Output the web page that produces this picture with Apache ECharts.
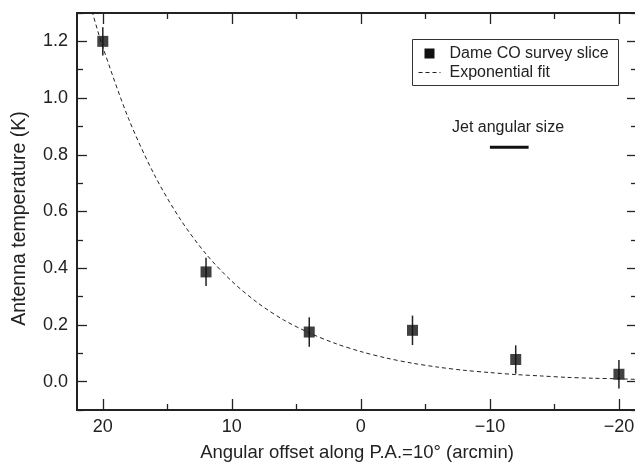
<!DOCTYPE html>
<html>
<head>
<meta charset="utf-8">
<script src="https://cdn.jsdelivr.net/npm/echarts@6/dist/echarts.min.js"></script>
<style>
html,body{margin:0;padding:0;background:#fff;}
#chart{width:635px;height:462px;}
</style>
</head>
<body>
<div id="chart"></div>
<script>
// Observed data (Dame CO survey slice)
var obsX = [20, 12, 4, -4, -12, -20];
var obsY = [1.20, 0.387, 0.175, 0.181, 0.078, 0.026];
var obsErr = [0.05, 0.05, 0.052, 0.052, 0.05, 0.05];

// Exponential fit curve
var fitX = [21, 20.8, 20, 18, 16, 14, 12, 10, 8, 6, 4, 2, 0, -2, -4, -6, -8, -10, -12, -14, -16, -18, -20, -21.4];
var fitY = [1.33, 1.30, 1.18, 0.927, 0.729, 0.573, 0.45, 0.354, 0.278, 0.218, 0.172, 0.135, 0.106, 0.083, 0.065, 0.051, 0.040, 0.032, 0.025, 0.020, 0.015, 0.012, 0.010, 0.008];

// Jet angular size bar
var jetX = [-10, -13];
var jetY = [0.827, 0.827];

// Ticks
var xMajor = [20, 10, 0, -10, -20];
var xMinor = [15, 5, -5, -15];
var yMajor = [0, 0.2, 0.4, 0.6, 0.8, 1.0, 1.2];
var yMinor = [-0.1, 0.1, 0.3, 0.5, 0.7, 0.9, 1.1, 1.3];

var FONT = "'Liberation Sans', Arial, Helvetica, sans-serif";
var INK = '#222';

function zip(a, b) { return a.map(function (v, i) { return [v, b[i]]; }); }

function xAx(pos, ticks, len, labels) {
  var ax = {
    type: 'value', position: pos, min: -21.4, max: 22, inverse: true,
    axisLine: { show: true, onZero: false, lineStyle: { color: INK, width: 2 } },
    axisTick: { show: true, inside: true, length: len, customValues: ticks, lineStyle: { color: INK, width: 1.3 } },
    axisLabel: { show: false },
    splitLine: { show: false }
  };
  if (labels) {
    ax.axisLabel = {
      show: true, customValues: ticks, fontSize: 18, color: INK, fontFamily: FONT, margin: 8,
      formatter: function (v) { return String(v).replace('-', '\u2212'); }
    };
    ax.name = 'Angular offset along P.A.=10\u00b0 (arcmin)';
    ax.nameLocation = 'middle';
    ax.nameGap = 33;
    ax.nameTextStyle = { fontSize: 18.5, color: INK, fontFamily: FONT };
  }
  return ax;
}

function yAx(pos, ticks, len, labels) {
  var ax = {
    type: 'value', position: pos, min: -0.1, max: 1.3,
    axisLine: { show: true, onZero: false, lineStyle: { color: INK, width: 2 } },
    axisTick: { show: true, inside: true, length: len, customValues: ticks, lineStyle: { color: INK, width: 1.3 } },
    axisLabel: { show: false },
    splitLine: { show: false }
  };
  if (labels) {
    ax.axisLabel = {
      show: true, customValues: ticks, fontSize: 18, color: INK, fontFamily: FONT, margin: 9,
      formatter: function (v) { return v.toFixed(1); }
    };
    ax.name = 'Antenna temperature (K)';
    ax.nameLocation = 'middle';
    ax.nameGap = 47;
    ax.nameTextStyle = { fontSize: 19.5, color: INK, fontFamily: FONT, padding: [0, 14, 0, 0] };
  }
  return ax;
}

var chart = echarts.init(document.getElementById('chart'), null, { renderer: 'canvas' });

var option = {
  animation: false,
  backgroundColor: '#fff',
  grid: { left: 77, right: -2, top: 13, bottom: 52, containLabel: false, outerBoundsMode: 'none' },
  xAxis: [
    xAx('bottom', xMajor, 11, true),
    xAx('bottom', xMinor, 6, false),
    xAx('top', xMajor, 11, false),
    xAx('top', xMinor, 6, false)
  ],
  yAxis: [
    yAx('left', yMajor, 10, true),
    yAx('left', yMinor, 6, false),
    yAx('right', yMajor, 10, false),
    yAx('right', yMinor, 6, false)
  ],
  series: [
    {
      name: 'Exponential fit', type: 'line', xAxisIndex: 0, yAxisIndex: 0,
      data: zip(fitX, fitY), smooth: 0.3, showSymbol: false, symbol: 'none', clip: true,
      lineStyle: { color: INK, width: 1, type: [4, 3] }, z: 2
    },
    {
      name: 'errors', type: 'custom', xAxisIndex: 0, yAxisIndex: 0,
      data: obsX.map(function (x, i) { return [x, obsY[i], obsErr[i]]; }),
      renderItem: function (params, api) {
        var x = api.value(0), y = api.value(1), e = api.value(2);
        var p1 = api.coord([x, y - e]);
        var p2 = api.coord([x, y + e]);
        return {
          type: 'line',
          shape: { x1: p1[0], y1: p1[1], x2: p2[0], y2: p2[1] },
          style: { stroke: INK, lineWidth: 1.5 }
        };
      },
      z: 3
    },
    {
      name: 'Dame CO survey slice', type: 'scatter', xAxisIndex: 0, yAxisIndex: 0,
      data: zip(obsX, obsY), symbol: 'rect', symbolSize: 11,
      itemStyle: { color: '#111' }, z: 4
    },
    {
      name: 'Jet angular size', type: 'line', xAxisIndex: 0, yAxisIndex: 0,
      data: zip(jetX, jetY), showSymbol: false, symbol: 'none',
      lineStyle: { color: '#111', width: 3 }, z: 3
    }
  ],
  graphic: [
    {
      type: 'text', left: 452, top: 120,
      style: { text: 'Jet angular size', font: '16px ' + FONT, fill: INK }
    },
    {
      type: 'group', left: 412, top: 39,
      children: [
        { type: 'rect', shape: { x: 0, y: 0, width: 206, height: 46 }, style: { fill: '#fff', stroke: '#333', lineWidth: 1 } },
        { type: 'rect', shape: { x: 12, y: 9, width: 10, height: 10 }, style: { fill: '#111' } },
        { type: 'text', x: 37, y: 14, style: { text: 'Dame CO survey slice', font: '16px ' + FONT, fill: INK, verticalAlign: 'middle' } },
        { type: 'line', shape: { x1: 6, y1: 33, x2: 28, y2: 33 }, style: { stroke: INK, lineWidth: 1, lineDash: [4, 3] } },
        { type: 'text', x: 37, y: 33, style: { text: 'Exponential fit', font: '16px ' + FONT, fill: INK, verticalAlign: 'middle' } }
      ]
    }
  ]
};
chart.setOption(option);
</script>
</body>
</html>
